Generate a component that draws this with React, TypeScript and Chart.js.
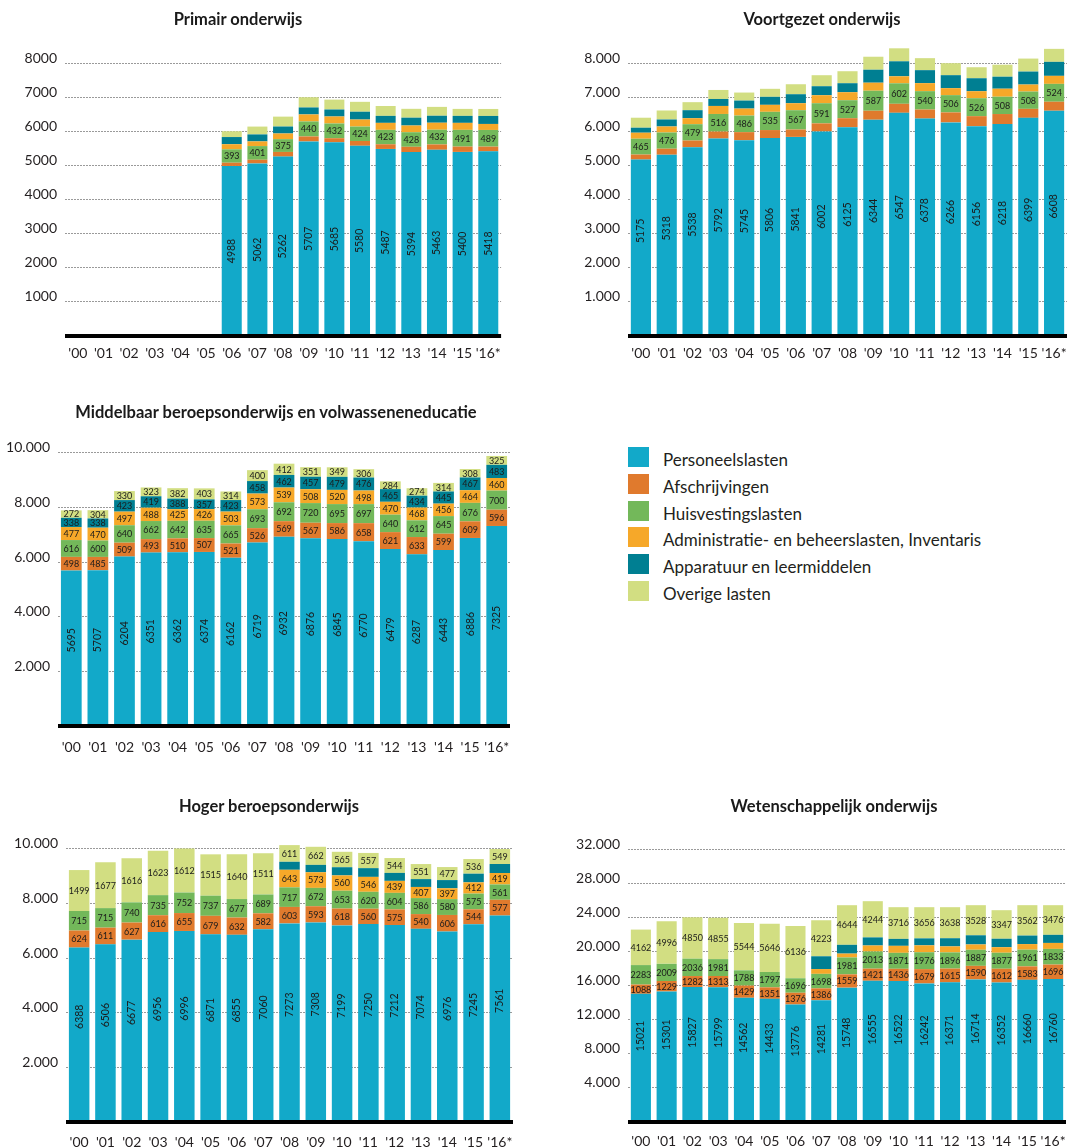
import React, { useEffect, useRef } from 'react';
import { Chart, registerables } from 'chart.js';

Chart.register(...registerables);

const FONT = 'Lato, "Open Sans", sans-serif';

const years = ["'00", "'01", "'02", "'03", "'04", "'05", "'06", "'07", "'08", "'09", "'10", "'11", "'12", "'13", "'14", "'15", "'16*"];
const seriesNames = ['Personeelslasten', 'Afschrijvingen', 'Huisvestingslasten', 'Administratie- en beheerslasten, Inventaris', 'Apparatuur en leermiddelen', 'Overige lasten'];
const seriesColors = ['#12A9C9', '#E07A2D', '#73B85A', '#F6A829', '#007F92', '#D2DE82'];

// Primair onderwijs
const poPersoneel = [null, null, null, null, null, null, 4988, 5062, 5262, 5707, 5685, 5580, 5487, 5394, 5463, 5400, 5418];
const poAfschr = [null, null, null, null, null, null, 95, 108, 137, 147, 117, 140, 137, 156, 156, 156, 137];
const poHuisv = [null, null, null, null, null, null, 393, 401, 375, 440, 432, 424, 423, 428, 432, 491, 489];
const poAdmin = [null, null, null, null, null, null, 150, 137, 166, 205, 205, 205, 205, 196, 205, 205, 176];
const poAppar = [null, null, null, null, null, null, 210, 205, 205, 205, 205, 230, 205, 230, 205, 205, 235];
const poOverig = [null, null, null, null, null, null, 170, 230, 290, 300, 290, 290, 290, 260, 260, 205, 205];
const poTicks = [1000, 2000, 3000, 4000, 5000, 6000, 7000, 8000];

// Voortgezet onderwijs
const voPersoneel = [5175, 5318, 5538, 5792, 5745, 5806, 5841, 6002, 6125, 6344, 6547, 6378, 6266, 6156, 6218, 6399, 6608];
const voAfschr = [147, 176, 196, 205, 235, 235, 215, 235, 264, 264, 264, 264, 293, 293, 293, 264, 264];
const voHuisv = [465, 476, 479, 516, 486, 535, 567, 591, 527, 587, 602, 540, 506, 526, 508, 508, 524];
const voAdmin = [176, 176, 176, 235, 205, 205, 205, 235, 235, 235, 205, 235, 205, 205, 235, 205, 235];
const voAppar = [147, 205, 235, 205, 235, 235, 264, 264, 264, 381, 440, 381, 381, 381, 352, 381, 411];
const voOverig = [293, 264, 235, 264, 235, 235, 293, 323, 352, 381, 381, 352, 352, 323, 352, 381, 381];
const voTicks = [1000, 2000, 3000, 4000, 5000, 6000, 7000, 8000];

// Middelbaar beroepsonderwijs en volwasseneneducatie
const mboPersoneel = [5695, 5707, 6204, 6351, 6362, 6374, 6162, 6719, 6932, 6876, 6845, 6770, 6479, 6287, 6443, 6886, 7325];
const mboAfschr = [498, 485, 509, 493, 510, 507, 521, 526, 569, 567, 586, 658, 621, 633, 599, 609, 596];
const mboHuisv = [616, 600, 640, 662, 642, 635, 665, 693, 692, 720, 695, 697, 640, 612, 645, 676, 700];
const mboAdmin = [477, 470, 497, 488, 425, 426, 503, 573, 539, 508, 520, 498, 470, 468, 456, 464, 460];
const mboAppar = [338, 338, 423, 419, 388, 357, 423, 458, 462, 457, 479, 476, 465, 434, 445, 467, 483];
const mboOverig = [272, 304, 330, 323, 382, 403, 314, 400, 412, 351, 349, 306, 284, 274, 314, 308, 325];
const mboTicks = [2000, 4000, 6000, 8000, 10000];

// Hoger beroepsonderwijs
const hboPersoneel = [6388, 6506, 6677, 6956, 6996, 6871, 6855, 7060, 7273, 7308, 7199, 7250, 7212, 7074, 6976, 7245, 7561];
const hboAfschr = [624, 611, 627, 616, 655, 679, 632, 582, 603, 593, 618, 560, 575, 540, 606, 544, 577];
const hboHuisv = [715, 715, 740, 735, 752, 737, 677, 689, 717, 672, 653, 620, 604, 586, 580, 575, 561];
const hboAdmin = [null, null, null, null, null, null, null, null, 643, 573, 560, 546, 439, 407, 397, 412, 419];
const hboAppar = [null, null, null, null, null, null, null, null, 293, 270, 300, 320, 292, 288, 300, 317, 329];
const hboOverig = [1499, 1677, 1616, 1623, 1612, 1515, 1640, 1511, 611, 662, 565, 557, 544, 551, 477, 536, 549];
const hboTicks = [2000, 4000, 6000, 8000, 10000];

// Wetenschappelijk onderwijs
const woPersoneel = [15021, 15301, 15827, 15799, 14562, 14433, 13776, 14281, 15748, 16555, 16522, 16242, 16371, 16714, 16352, 16660, 16760];
const woAfschr = [1088, 1229, 1282, 1313, 1429, 1351, 1376, 1386, 1559, 1421, 1436, 1679, 1615, 1590, 1612, 1583, 1696];
const woHuisv = [2283, 2009, 2036, 1981, 1788, 1797, 1696, 1698, 1981, 2013, 1871, 1976, 1896, 1887, 1877, 1961, 1833];
const woAdmin = [null, null, null, null, null, null, null, 560, 450, 700, 820, 810, 700, 620, 650, 650, 700];
const woAppar = [null, null, null, null, null, null, null, 1500, 1030, 950, 815, 817, 960, 1076, 990, 1000, 950];
const woOverig = [4162, 4996, 4850, 4855, 5544, 5646, 6136, 4223, 4644, 4244, 3716, 3656, 3638, 3528, 3347, 3562, 3476];
const woTicks = [4000, 8000, 12000, 16000, 20000, 24000, 28000, 32000];

type Mode = '' | 'rot' | 'flat';

type Panel = {
  title: string;
  left: number; top: number; width: number; height: number;
  titleX: number; titleY: number;
  series: (number | null)[][];
  modes: Mode[];
  yMax: number; ticks: number[]; dots: boolean;
  padTop: number; padRight: number; yWidth: number; xHeight: number; xPad: number; rotOffset: number;
};

const fmtPlain = (v: number) => String(v);
const fmtDots = (v: number) => String(v).replace(/\B(?=(\d{3})+(?!\d))/g, '.');

const panels: Panel[] = [
  {
    title: 'Primair onderwijs', left: 0, top: 0, width: 510, height: 370, titleX: 238, titleY: 19,
    series: [poPersoneel, poAfschr, poHuisv, poAdmin, poAppar, poOverig],
    modes: ['rot', '', 'flat', '', '', ''],
    yMax: 8800, ticks: poTicks, dots: false,
    padTop: 36, padRight: 7, yWidth: 65, xHeight: 34, xPad: 9, rotOffset: 0,
  },
  {
    title: 'Voortgezet onderwijs', left: 545, top: 0, width: 540, height: 370, titleX: 822, titleY: 19,
    series: [voPersoneel, voAfschr, voHuisv, voAdmin, voAppar, voOverig],
    modes: ['rot', '', 'flat', '', '', ''],
    yMax: 8800, ticks: voTicks, dots: true,
    padTop: 36, padRight: 18, yWidth: 83, xHeight: 34, xPad: 9, rotOffset: -17,
  },
  {
    title: 'Middelbaar beroepsonderwijs en volwasseneneducatie', left: 0, top: 380, width: 530, height: 380, titleX: 276, titleY: 412,
    series: [mboPersoneel, mboAfschr, mboHuisv, mboAdmin, mboAppar, mboOverig],
    modes: ['rot', 'flat', 'flat', 'flat', 'flat', 'flat'],
    yMax: 10400, ticks: mboTicks, dots: true,
    padTop: 62, padRight: 20, yWidth: 58, xHeight: 34, xPad: 13, rotOffset: -8,
  },
  {
    title: 'Hoger beroepsonderwijs', left: 0, top: 800, width: 530, height: 347, titleX: 269, titleY: 806,
    series: [hboPersoneel, hboAfschr, hboHuisv, hboAdmin, hboAppar, hboOverig],
    modes: ['rot', 'flat', 'flat', 'flat', '', 'flat'],
    yMax: 10400, ticks: hboTicks, dots: true,
    padTop: 38, padRight: 17, yWidth: 66, xHeight: 25, xPad: 12, rotOffset: -18,
  },
  {
    title: 'Wetenschappelijk onderwijs', left: 545, top: 800, width: 540, height: 347, titleX: 834, titleY: 806,
    series: [woPersoneel, woAfschr, woHuisv, woAdmin, woAppar, woOverig],
    modes: ['rot', 'flat', 'flat', '', '', 'flat'],
    yMax: 32000, ticks: woTicks, dots: true,
    padTop: 49, padRight: 19, yWidth: 83, xHeight: 25, xPad: 11, rotOffset: -22,
  },
];

const valueLabelPlugin = {
  id: 'valueLabels',
  afterDatasetsDraw(chart: any, _args: any, opts: any) {
    const ctx = chart.ctx;
    chart.data.datasets.forEach((ds: any, di: number) => {
      const mode: Mode = ds.labelMode;
      if (!mode) return;
      const meta = chart.getDatasetMeta(di);
      meta.data.forEach((el: any, i: number) => {
        const v = ds.data[i];
        if (v == null) return;
        const p = el.getProps(['x', 'y', 'base'], true);
        const cy = (p.y + p.base) / 2;
        ctx.save();
        ctx.fillStyle = '#1b1b1b';
        ctx.textAlign = 'center';
        ctx.textBaseline = 'middle';
        if (mode === 'rot') {
          ctx.font = `10.5px ${FONT}`;
          ctx.translate(p.x, cy + (opts.rotOffset || 0));
          ctx.rotate(-Math.PI / 2);
          ctx.fillText(String(v), 0, 0);
        } else {
          ctx.font = `9px ${FONT}`;
          ctx.fillText(String(v), p.x, cy + 0.5);
        }
        ctx.restore();
      });
    });
  },
};

const baselinePlugin = {
  id: 'baseline',
  afterDatasetsDraw(chart: any) {
    const { ctx, chartArea } = chart;
    ctx.save();
    ctx.fillStyle = '#000000';
    ctx.fillRect(chartArea.left, chartArea.bottom - 2, chartArea.right - chartArea.left, 4);
    ctx.restore();
  },
};

function PanelChart({ p }: { p: Panel }) {
  const ref = useRef<HTMLCanvasElement>(null);
  useEffect(() => {
    if (!ref.current) return;
    const fmt = p.dots ? fmtDots : fmtPlain;
    const chart = new Chart(ref.current, {
      type: 'bar',
      data: {
        labels: years,
        datasets: p.series.map((data, i) => ({
          label: seriesNames[i],
          data,
          backgroundColor: seriesColors[i],
          borderWidth: 0,
          barPercentage: 0.78,
          categoryPercentage: 1,
          labelMode: p.modes[i],
        })) as any,
      },
      options: {
        responsive: false,
        animation: false,
        devicePixelRatio: 1,
        layout: { padding: { top: p.padTop, right: p.padRight, left: 0, bottom: 0 } },
        plugins: {
          legend: { display: false },
          tooltip: { enabled: false },
          title: { display: false },
          valueLabels: { rotOffset: p.rotOffset },
        } as any,
        scales: {
          x: {
            stacked: true,
            grid: { display: false, drawTicks: false },
            border: { display: false },
            ticks: { font: { family: FONT, size: 14 }, color: '#231f20', padding: p.xPad, maxRotation: 0, autoSkip: false },
            afterFit: (s: any) => { s.height = p.xHeight; },
          },
          y: {
            stacked: true,
            min: 0,
            max: p.yMax,
            ticks: {
              font: { family: FONT, size: 14 },
              color: '#231f20',
              padding: 8,
              labelOffset: -5,
              autoSkip: false,
              callback: (v: any) => fmt(Number(v)),
            },
            grid: { color: '#9a9a9a', lineWidth: 1, drawTicks: false },
            border: { display: false, dash: [2, 1] },
            afterBuildTicks: (s: any) => { s.ticks = p.ticks.map((v) => ({ value: v })); },
            afterFit: (s: any) => { s.width = p.yWidth; },
          },
        } as any,
      },
      plugins: [valueLabelPlugin, baselinePlugin],
    });
    return () => chart.destroy();
  }, [p]);
  return (
    <canvas
      ref={ref}
      width={p.width}
      height={p.height}
      style={{ position: 'absolute', left: p.left, top: p.top, width: p.width, height: p.height }}
    />
  );
}

export default function App() {
  const legendTop = 446.7;
  const legendStep = 26.9;
  return (
    <div style={{ position: 'absolute', left: 0, top: 0, width: 1085, height: 1147, background: '#ffffff', overflow: 'hidden', fontFamily: FONT }}>
      {panels.map((p) => (
        <PanelChart key={p.title} p={p} />
      ))}
      {panels.map((p) => (
        <div
          key={'t' + p.title}
          style={{
            position: 'absolute', left: p.titleX - 250, width: 500, top: p.titleY - 11, height: 22, lineHeight: '22px',
            textAlign: 'center', fontWeight: 700, fontSize: 16.5, color: '#1a1a1a', whiteSpace: 'nowrap',
          }}
        >
          {p.title}
        </div>
      ))}
      {seriesNames.map((name, i) => (
        <React.Fragment key={name}>
          <div style={{ position: 'absolute', left: 628, top: legendTop + i * legendStep, width: 21, height: 20, background: seriesColors[i] }} />
          <div style={{ position: 'absolute', left: 663, top: legendTop + 3 + i * legendStep, height: 20, lineHeight: '20px', fontSize: 17, color: '#231f20', whiteSpace: 'nowrap' }}>
            {name}
          </div>
        </React.Fragment>
      ))}
    </div>
  );
}
